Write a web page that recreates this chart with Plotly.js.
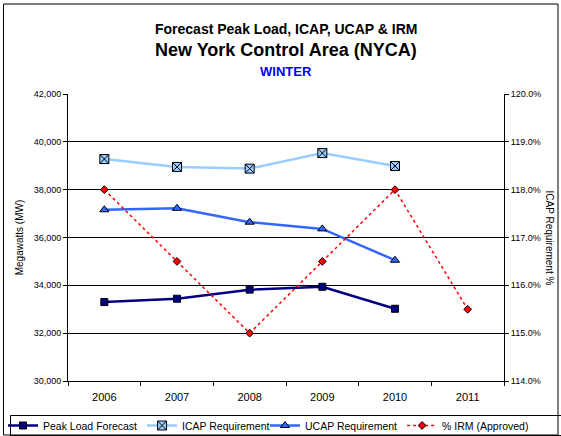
<!DOCTYPE html>
<html><head><meta charset="utf-8">
<script src="https://cdn.plot.ly/plotly-3.0.1.min.js"></script>
<style>html,body{margin:0;padding:0;background:#fff}#chart{width:561px;height:436px}</style>
</head><body><div id="chart"></div>
<script>
const years = ['2006','2007','2008','2009','2010','2011'];
const peakLoad = [33300, 33440, 33820, 33940, 33020];
const icapReq = [39280, 38950, 38880, 39530, 38990];
const ucapReq = [37160, 37220, 36640, 36360, 35050];
const irmPct = [118.0, 116.5, 115.0, 116.5, 118.0, 115.5];
const leftTicks = [30000, 32000, 34000, 36000, 38000, 40000, 42000];
const rightTicks = [114, 115, 116, 117, 118, 119, 120];

const W = 561, H = 436, mL = 68, mR = 57, mT = 94, mB = 55;
const pw = W - mL - mR, ph = H - mT - mB;
const px = x => (x - mL) / pw;
const py = y => (H - mB - y) / ph;

const font = 'Liberation Sans, Arial, sans-serif';
const traces = [
  {x: years.slice(0, peakLoad.length), y: peakLoad, name: 'Peak Load Forecast', type: 'scatter', mode: 'lines+markers', legend: 'legend',
   line: {color: '#000080', width: 2.5}, marker: {symbol: 'square', size: 7, color: '#000080', line: {color: '#000000', width: 1}}},
  {x: years.slice(0, icapReq.length), y: icapReq, name: 'ICAP Requirement', type: 'scatter', mode: 'lines+markers', legend: 'legend',
   line: {color: '#99CCFF', width: 2.5}, marker: {symbol: 'square-x', size: 9, color: '#99CCFF', line: {color: '#000000', width: 1}}},
  {x: years.slice(0, ucapReq.length), y: ucapReq, name: 'UCAP Requirement', type: 'scatter', mode: 'lines+markers', legend: 'legend2',
   line: {color: '#3366FF', width: 2.5}, marker: {symbol: 'triangle-up', size: 8, color: '#3366FF', line: {color: '#000000', width: 1}}},
  {x: years, y: irmPct, name: '% IRM (Approved)', type: 'scatter', mode: 'lines+markers', yaxis: 'y2', legend: 'legend2',
   line: {color: '#FF0000', width: 1.5, dash: 'dot'}, marker: {symbol: 'diamond', size: 6, color: '#FF0000', line: {color: '#000000', width: 1}}}
];

const legendBase = {orientation: 'h', xref: 'container', yref: 'container', xanchor: 'left',
  y: (H - 425.5) / H, yanchor: 'middle', borderwidth: 0, bgcolor: 'rgba(0,0,0,0)',
  font: {family: font, size: 10.5, color: '#000'}, tracegroupgap: 0, itemwidth: 30};

const layout = {
  width: W, height: H,
  margin: {l: mL, r: mR, t: mT, b: mB, autoexpand: false},
  paper_bgcolor: '#ffffff', plot_bgcolor: '#ffffff',
  font: {family: font, size: 9, color: '#000'},
  showlegend: true,
  legend: Object.assign({}, legendBase, {x: 3 / W}),
  legend2: Object.assign({}, legendBase, {x: 265 / W}),
  xaxis: {type: 'category', range: [-0.5, 5.5], tickson: 'boundaries', ticks: 'outside', ticklen: 4,
          tickcolor: '#000', showline: true, linecolor: '#000', linewidth: 1, showgrid: false, zeroline: false,
          tickfont: {family: font, size: 11, color: '#000'}, ticklabelstandoff: 6},
  yaxis: {range: [30000, 42000], tickvals: leftTicks, tickformat: ',d', ticks: 'outside', ticklen: 4,
          tickcolor: '#000', showline: true, linecolor: '#000', showgrid: true, gridcolor: '#000', gridwidth: 1,
          zeroline: false, tickfont: {family: font, size: 9, color: '#000'},
          title: {text: 'Megawatts (MW)', font: {family: font, size: 10, color: '#000'}, standoff: 8}},
  yaxis2: {overlaying: 'y', side: 'right', range: [114, 120], tickvals: rightTicks,
           ticktext: rightTicks.map(v => v.toFixed(1) + '%'), ticks: 'outside', ticklen: 4, tickcolor: '#000',
           showline: true, linecolor: '#000', showgrid: false, zeroline: false,
           tickfont: {family: font, size: 9, color: '#000'}},
  annotations: [
    {text: '<b>Forecast Peak Load, ICAP, UCAP & IRM</b>', xref: 'paper', yref: 'paper', x: 0.5, y: py(29),
     xanchor: 'center', yanchor: 'middle', showarrow: false, font: {family: font, size: 14, color: '#000'}},
    {text: '<b>New York Control Area (NYCA)</b>', xref: 'paper', yref: 'paper', x: 0.5, y: py(50),
     xanchor: 'center', yanchor: 'middle', showarrow: false, font: {family: font, size: 18, color: '#000'}},
    {text: '<b>WINTER</b>', xref: 'paper', yref: 'paper', x: 0.5, y: py(72),
     xanchor: 'center', yanchor: 'middle', showarrow: false, font: {family: font, size: 13, color: '#0000FF'}},
    {text: 'ICAP Requirement %', xref: 'paper', yref: 'paper', x: px(549), y: 0.5, textangle: 90,
     xanchor: 'center', yanchor: 'middle', showarrow: false, font: {family: font, size: 10, color: '#000'}}
  ],
  shapes: [
    {type: 'rect', xref: 'paper', yref: 'paper', x0: px(3.5), x1: px(558), y0: py(435), y1: py(4),
     line: {color: '#000', width: 1}, fillcolor: 'rgba(0,0,0,0)', layer: 'below'},
    {type: 'rect', xref: 'paper', yref: 'paper', x0: px(10.5), x1: px(563), y0: py(435.5), y1: py(415.5),
     line: {color: '#000', width: 1}, fillcolor: 'rgba(0,0,0,0)', layer: 'below'}
  ]
};

Plotly.newPlot('chart', traces, layout, {displayModeBar: false, staticPlot: true});
</script></body></html>
